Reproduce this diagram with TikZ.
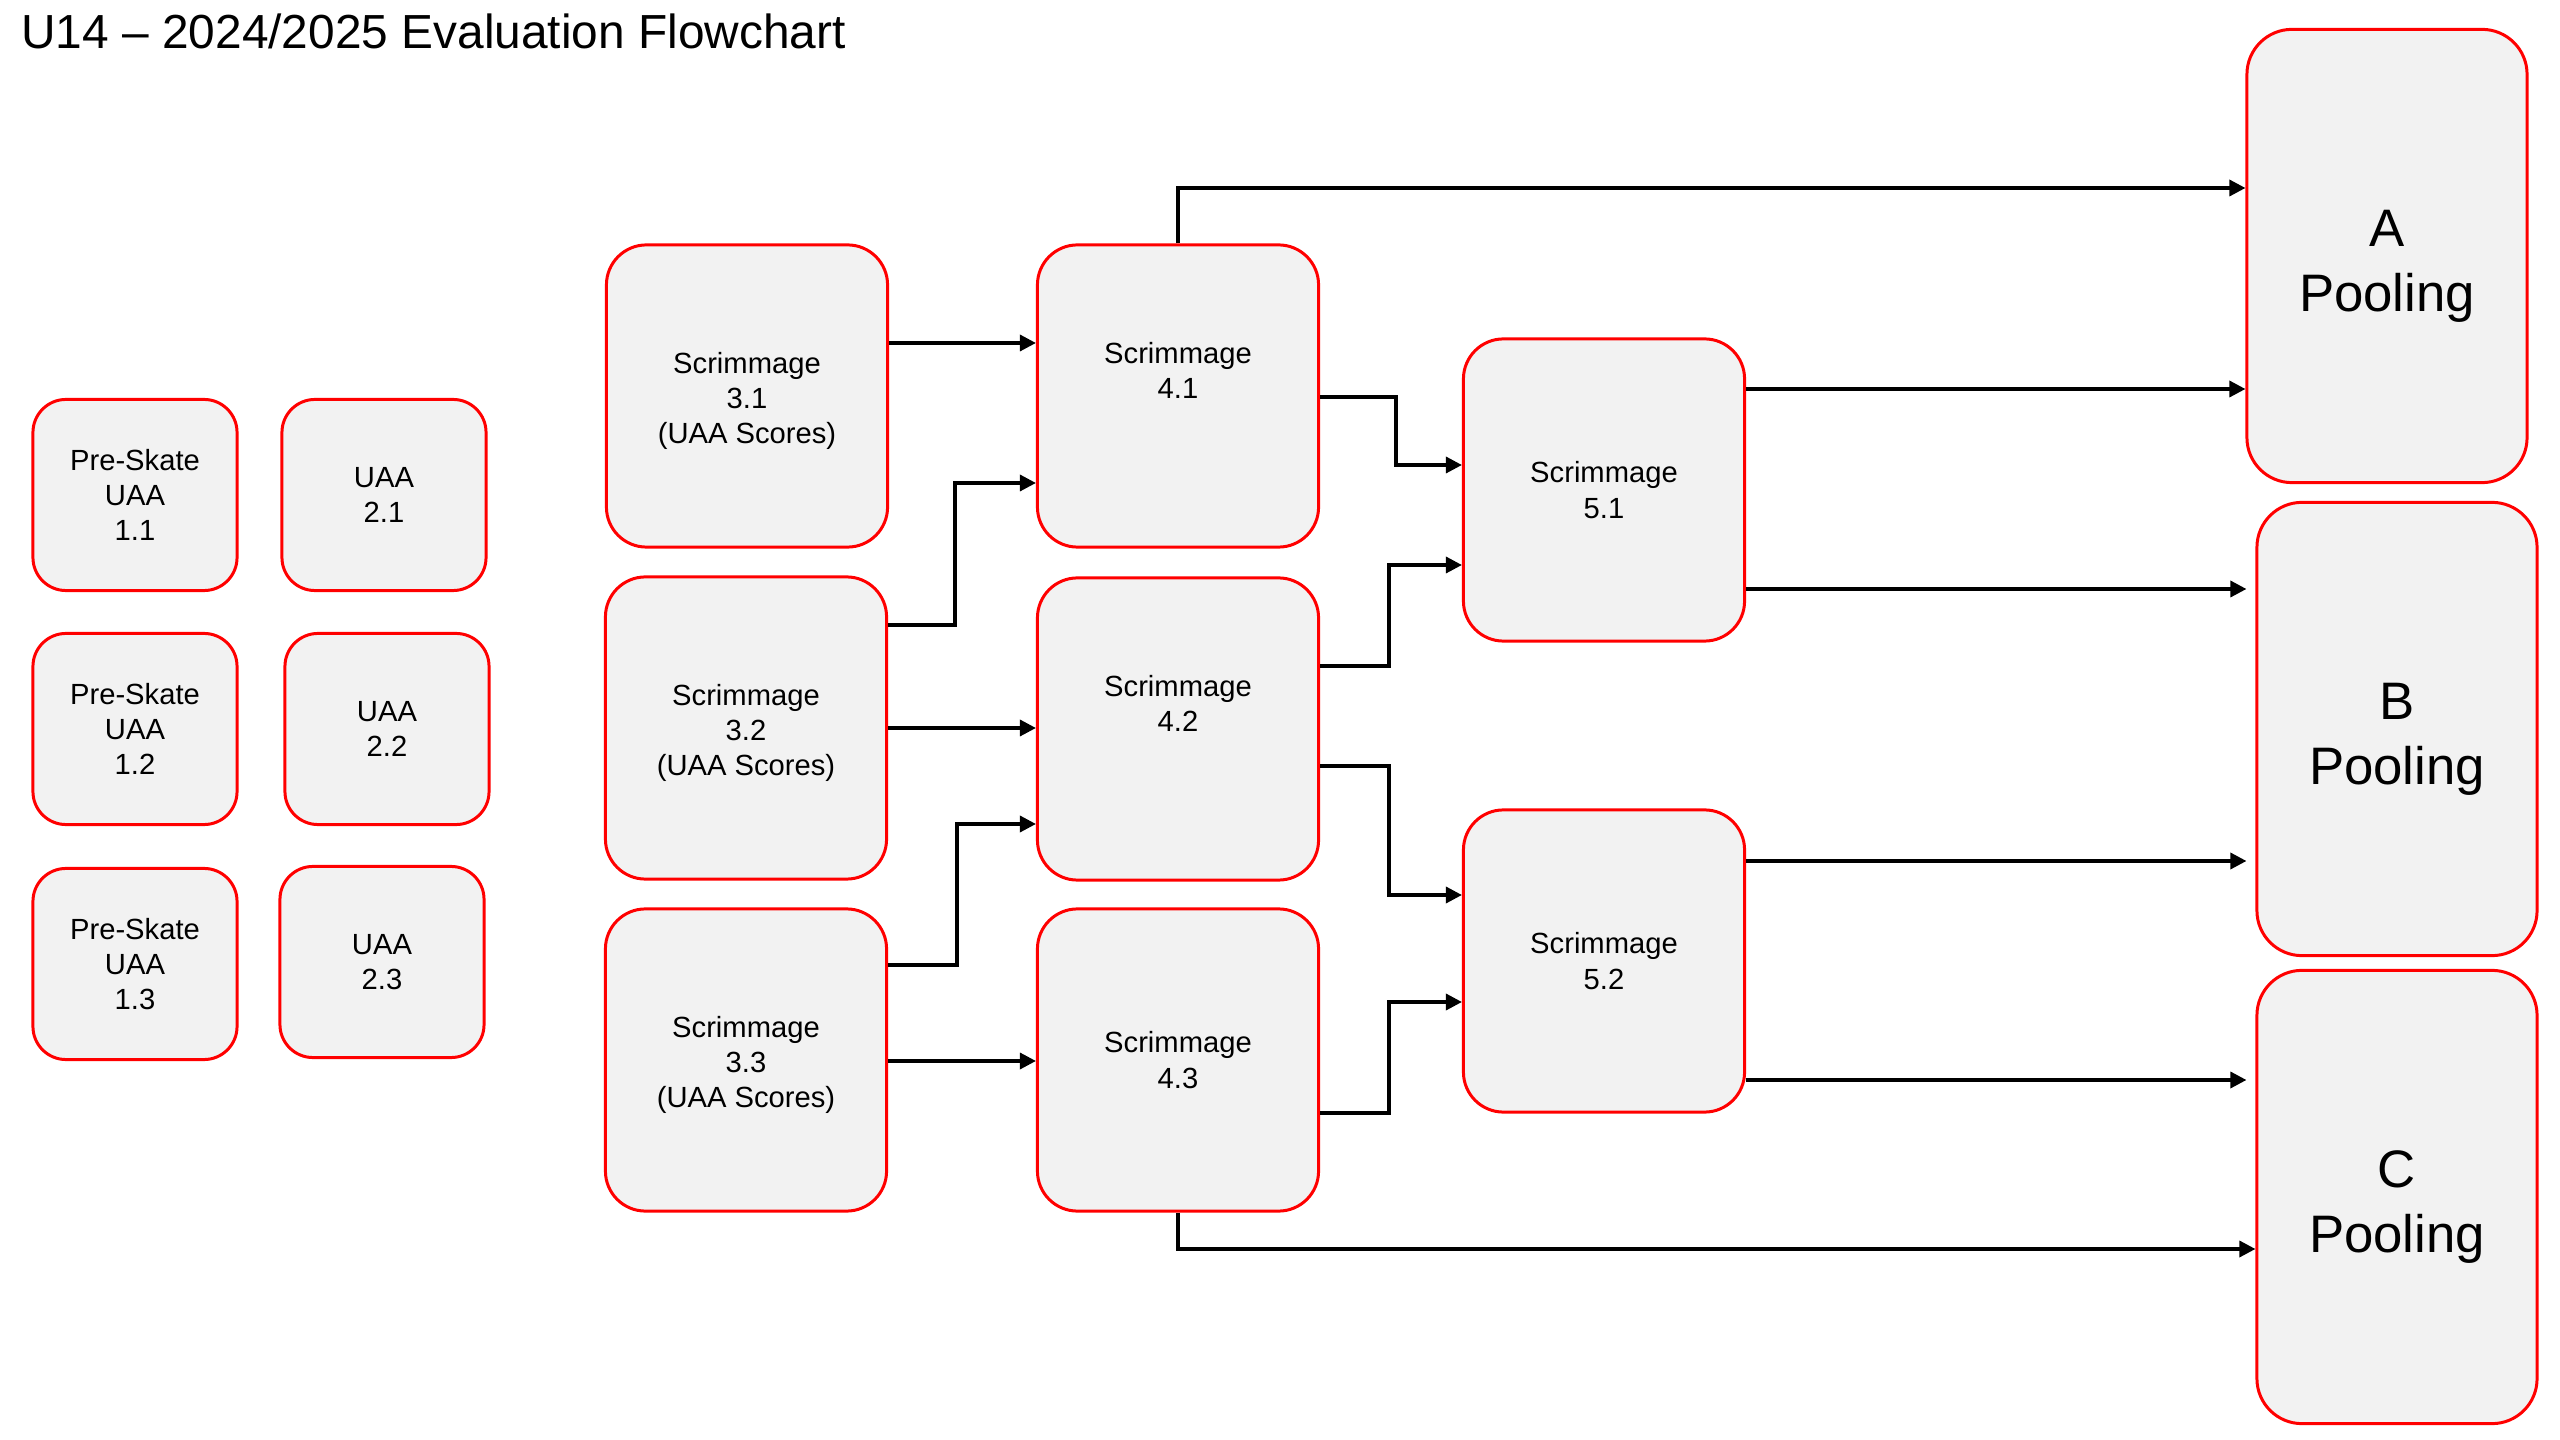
\documentclass[tikz,border=0pt]{standalone}
\usepackage{fontspec}
\setmainfont{Liberation Sans}
\usetikzlibrary{arrows.meta}
\definecolor{boxgray}{HTML}{F2F2F2}

\begin{document}
\begin{tikzpicture}[x=0.01cm,y=-0.01cm,
  box/.style={draw=red,line width=0.85pt,fill=boxgray,rounded corners=0.33cm,align=center,
    font=\fontsize{8.3}{10}\selectfont,minimum width=2.04cm,minimum height=1.91cm},
  scrim/.style={box,rounded corners=0.4cm,minimum width=2.81cm,minimum height=3.02cm},
  pool/.style={box,rounded corners=0.45cm,minimum width=2.8cm,minimum height=4.53cm,
    font=\fontsize{15}{18.5}\selectfont},
  arr/.style={line width=0.95pt,-{Triangle[length=0.16cm,width=0.16cm]}}]
  \useasboundingbox (0,0) rectangle (2560,1440);
  \node[anchor=base west,font=\fontsize{13.6}{16}\selectfont] (title) at (9,49) {U14 – 2024/2025 Evaluation Flowchart};

  \node[box] (p11) at (135,495) {Pre-Skate\\UAA\\1.1};
  \node[box] (p12) at (135,729) {Pre-Skate\\UAA\\1.2};
  \node[box] (p13) at (135,964) {Pre-Skate\\UAA\\1.3};
  \node[box] (u21) at (384,495) {UAA\\2.1};
  \node[box] (u22) at (387,729) {UAA\\2.2};
  \node[box] (u23) at (382,962) {UAA\\2.3};

  \node[scrim] (s31) at (747,396) {\rule{0pt}{9pt}Scrimmage\\3.1\\(UAA Scores)};
  \node[scrim] (s32) at (746,728) {\rule{0pt}{9pt}Scrimmage\\3.2\\(UAA Scores)};
  \node[scrim] (s33) at (746,1060) {\rule{0pt}{9pt}Scrimmage\\3.3\\(UAA Scores)};
  \node[scrim] (s41) at (1178,396) {Scrimmage\\4.1\\[4.5pt]~};
  \node[scrim] (s42) at (1178,729) {Scrimmage\\4.2\\[4.5pt]~};
  \node[scrim] (s43) at (1178,1060) {Scrimmage\\4.3};
  \node[scrim] (s51) at (1604,490) {Scrimmage\\5.1};
  \node[scrim] (s52) at (1604,961) {Scrimmage\\5.2};

  \node[pool] (pa) at (2387,256) {\rule{0pt}{16pt}A\\Pooling};
  \node[pool] (pb) at (2397,729) {\rule{0pt}{16pt}B\\Pooling};
  \node[pool] (pc) at (2397,1197) {\rule{0pt}{16pt}C\\Pooling};

  \draw[arr] (s31.east |- 0,343) -- (s41.west |- 0,343);
  \draw[arr] (s32.east |- 0,625) -| (955,483) -- (s41.west |- 0,483);
  \draw[arr] (s32.east |- 0,728) -- (s42.west |- 0,728);
  \draw[arr] (s33.east |- 0,965) -| (957,824) -- (s42.west |- 0,824);
  \draw[arr] (s33.east |- 0,1061) -- (s43.west |- 0,1061);
  \draw[arr] (s41.east |- 0,397) -| (1396,465) -- (s51.west |- 0,465);
  \draw[arr] (s42.east |- 0,666) -| (1389,565) -- (s51.west |- 0,565);
  \draw[arr] (s42.east |- 0,766) -| (1389,895) -- (s52.west |- 0,895);
  \draw[arr] (s43.east |- 0,1113) -| (1389,1002) -- (s52.west |- 0,1002);
  \draw[arr] (s41.north) |- (pa.west |- 0,188);
  \draw[arr] (s51.east |- 0,389) -- (pa.west |- 0,389);
  \draw[arr,shorten >=0.09cm] (s51.east |- 0,589) -- (pb.west |- 0,589);
  \draw[arr,shorten >=0.09cm] (s52.east |- 0,861) -- (pb.west |- 0,861);
  \draw[arr,shorten >=0.09cm] (s52.east |- 0,1080) -- (pc.west |- 0,1080);
  \draw[arr] (s43.south) |- (pc.west |- 0,1249);
\end{tikzpicture}
\end{document}
